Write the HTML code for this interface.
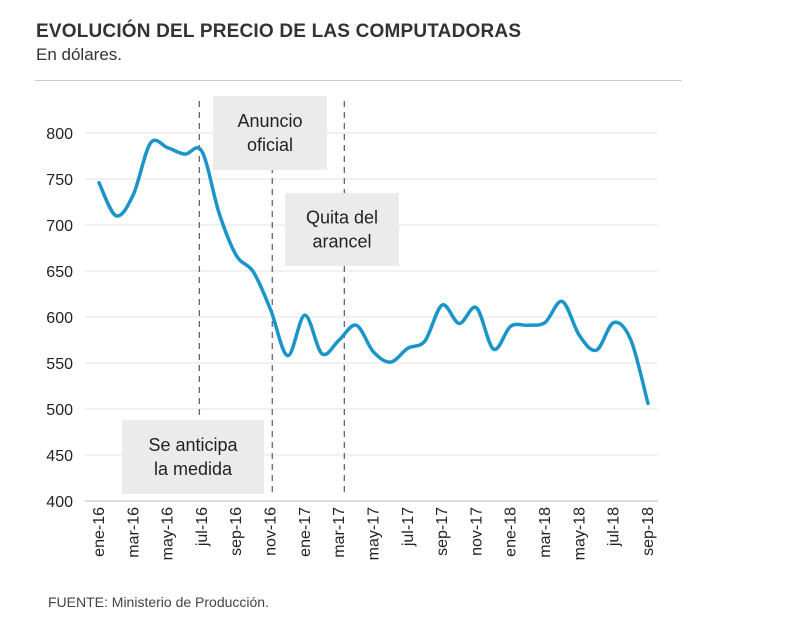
<!DOCTYPE html>
<html><head><meta charset="utf-8"><style>
body{margin:0;background:#fff;font-family:"Liberation Sans",sans-serif;}
</style></head><body>
<svg width="785" height="628" viewBox="0 0 785 628" style="font-family:'Liberation Sans',sans-serif">
<text x="36" y="37" font-size="19" font-weight="bold" fill="#333" textLength="485">EVOLUCIÓN DEL PRECIO DE LAS COMPUTADORAS</text>
<text x="36" y="60" font-size="17" fill="#333">En dólares.</text>
<line x1="35" y1="80.5" x2="682" y2="80.5" stroke="#ccc"/>
<g id="grid"></g>
<g id="ann"></g>
<g id="xt"></g>
<path id="line" fill="none" stroke="#1a94c9" stroke-width="3.5" stroke-linejoin="round" stroke-linecap="round"/>
<text x="48" y="607" font-size="14" fill="#444">FUENTE: Ministerio de Producción.</text>
</svg>
<script>
const months=["ene-16","feb-16","mar-16","abr-16","may-16","jun-16","jul-16","ago-16","sep-16","oct-16","nov-16","dic-16","ene-17","feb-17","mar-17","abr-17","may-17","jun-17","jul-17","ago-17","sep-17","oct-17","nov-17","dic-17","ene-18","feb-18","mar-18","abr-18","may-18","jun-18","jul-18","ago-18","sep-18"];
const prices=[746,710,733,789,784,777,780,713,667,649,608,558,602,560,575,591,562,551,566,574,613,593,610,565,590,591,594,617,580,564,594,575,506];
const yTicks=[400,450,500,550,600,650,700,750,800];
const events=[5.85,10.1,14.3];
const NS="http://www.w3.org/2000/svg";
const X=i=>99+17.156*i, Y=v=>133+(800-v)*0.92;
function el(t,a,p){const e=document.createElementNS(NS,t);for(const k in a)e.setAttribute(k,a[k]);p.appendChild(e);return e;}
const grid=document.getElementById('grid');
yTicks.forEach(v=>{
 const l=el('line',{x1:85,x2:658,y1:Y(v),y2:Y(v),stroke:v===400?'#bbb':'#e3e3e3'},grid);
 
 
 const t=el('text',{x:73,y:Y(v)+6,'text-anchor':'end','font-size':16,fill:'#222'},grid);
 t.textContent=v;
 
 
});
const ann=document.getElementById('ann');
function box(x,y,w,h,lines,name){
 const g=el('g',{},ann);
 
 
 el('rect',{x,y,width:w,height:h,fill:'#ebebeb'},g);
 lines.forEach((s,i)=>{const t=el('text',{x:x+w/2,y:y+h/2+(i-(lines.length-1)/2)*24+6,'text-anchor':'middle','font-size':18,fill:'#222'},g);t.textContent=s;});
}
events.forEach((m,i)=>{
 const l=el('line',{x1:X(m),x2:X(m),y1:101,y2:496,stroke:'#666','stroke-width':1.3,'stroke-dasharray':'6,5'},ann);
 
 
});
box(213,96,114,74,["Anuncio","oficial"],'annotation-anuncio-oficial');
box(285,193,114,73,["Quita del","arancel"],'annotation-quita-arancel');
box(122,420,142,74,["Se anticipa","la medida"],'annotation-se-anticipa');
const xt=document.getElementById('xt');
months.forEach((m,i)=>{ if(i%2) return;
 const t=el('text',{transform:`translate(${X(i)+5},507) rotate(-90)`,'text-anchor':'end','font-size':16,fill:'#222'},xt);
 t.textContent=m;
 
 
});
const P=prices.map((v,i)=>[X(i),Y(v)]);
let d=`M${P[0][0]},${P[0][1]}`;
for(let i=0;i<P.length-1;i++){
 const p0=P[Math.max(0,i-1)],p1=P[i],p2=P[i+1],p3=P[Math.min(P.length-1,i+2)];
 const c1=[p1[0]+(p2[0]-p0[0])/6,p1[1]+(p2[1]-p0[1])/6],c2=[p2[0]-(p3[0]-p1[0])/6,p2[1]-(p3[1]-p1[1])/6];
 d+=` C${c1[0]},${c1[1]} ${c2[0]},${c2[1]} ${p2[0]},${p2[1]}`;
}
document.getElementById('line').setAttribute('d',d);
</script>
</body></html>
